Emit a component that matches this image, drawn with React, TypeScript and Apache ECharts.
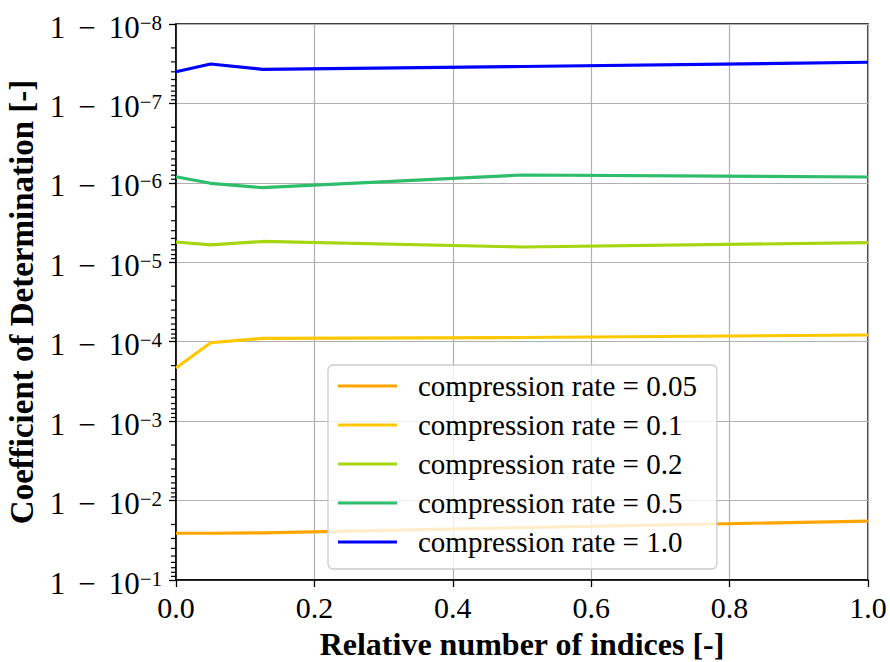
import React, { useEffect, useRef } from "react";
import * as echarts from "echarts";

// x positions (relative number of indices)
const relIndices = [0, 0.05, 0.125, 0.5, 1.0];

// legend / series names
const seriesNames = [
  "compression rate = 0.05",
  "compression rate = 0.1",
  "compression rate = 0.2",
  "compression rate = 0.5",
  "compression rate = 1.0",
];

// values of 1 - R^2 (plotted as "1 − 10^k" on the inverted log axis)
const rate005 = [2.58e-2, 2.58e-2, 2.55e-2, 2.19e-2, 1.81e-2];
const rate01 = [2.14e-4, 1.03e-4, 9.06e-5, 8.85e-5, 8.23e-5];
const rate02 = [5.55e-6, 6.05e-6, 5.47e-6, 6.42e-6, 5.66e-6];
const rate05 = [8.37e-7, 1.013e-6, 1.151e-6, 7.96e-7, 8.44e-7];
const rate10 = [3.99e-8, 3.19e-8, 3.72e-8, 3.43e-8, 3.03e-8];

const seriesValues = [rate005, rate01, rate02, rate05, rate10];
const seriesColors = ["#FFA500", "#FFC800", "#A5D610", "#2EBD6B", "#0000FF"];

// axis ticks
const xTickLabels = ["0.0", "0.2", "0.4", "0.6", "0.8", "1.0"];
const yDecadeExponents = [-8, -7, -6, -5, -4, -3, -2, -1];
const minorMultipliers = [2, 3, 4, 5, 6, 7, 8, 9];

const FONT = "'Liberation Serif', 'Times New Roman', serif";

export default function App() {
  const ref = useRef<HTMLDivElement>(null);

  useEffect(() => {
    document.body.style.margin = "0";
    if (!ref.current) return;
    const chart = echarts.init(ref.current, null, { renderer: "svg" });

    const minorTickValues: number[] = [];
    yDecadeExponents.slice(0, -1).forEach((e) => {
      minorMultipliers.forEach((m) => minorTickValues.push(m * Math.pow(10, e)));
    });

    const lineSeries = seriesNames.map((name, i) => ({
      name,
      type: "line",
      data: relIndices.map((x, j) => [x, seriesValues[i][j]]),
      symbol: "none",
      showSymbol: false,
      lineStyle: { color: seriesColors[i], width: 3.2 },
      itemStyle: { color: seriesColors[i] },
      z: 3,
    }));

    const option = {
      animation: false,
      backgroundColor: "#ffffff",
      grid: {
        left: 176,
        right: 22,
        top: 24,
        bottom: 82,
        show: true,
        borderColor: "#000000",
        borderWidth: 1.5,
        backgroundColor: "transparent",
        containLabel: false,
        outerBoundsMode: "none",
      },
      legend: {
        orient: "vertical",
        left: 328,
        top: 365,
        data: seriesNames,
        icon: "rect",
        itemWidth: 59,
        itemHeight: 3,
        itemGap: 9,
        padding: [6, 20, 12, 10],
        backgroundColor: "rgba(255,255,255,0.8)",
        borderColor: "#cccccc",
        borderWidth: 1.3,
        borderRadius: 5,
        textStyle: {
          fontFamily: FONT,
          fontSize: 29,
          lineHeight: 30,
          color: "#000000",
          padding: [0, 0, 0, 16],
        },
        selectedMode: false,
        z: 10,
      },
      xAxis: {
        type: "value",
        min: 0,
        max: 1,
        interval: 0.2,
        name: "Relative number of indices [-]",
        nameLocation: "middle",
        nameGap: 48,
        nameTextStyle: {
          fontFamily: FONT,
          fontSize: 32,
          fontWeight: "bold",
          color: "#000000",
        },
        axisLine: { show: true, lineStyle: { color: "#000000", width: 1.5 } },
        axisTick: { show: true, length: 7, lineStyle: { color: "#000000", width: 1.3 } },
        axisLabel: {
          margin: 12,
          fontFamily: FONT,
          fontSize: 30,
          color: "#000000",
          formatter: (v: number) => xTickLabels[Math.round(v / 0.2)] ?? v.toFixed(1),
        },
        splitLine: { show: true, lineStyle: { color: "#b0b0b0", width: 1.2 } },
      },
      yAxis: {
        type: "log",
        logBase: 10,
        min: 1e-8,
        max: 1e-1,
        interval: 1,
        inverse: true,
        name: "Coefficient of Determination [-]",
        nameLocation: "middle",
        nameGap: 138,
        nameTextStyle: {
          fontFamily: FONT,
          fontSize: 33,
          fontWeight: "bold",
          color: "#000000",
        },
        axisLine: { show: true, lineStyle: { color: "#000000", width: 1.5 } },
        axisTick: { show: true, length: 7, lineStyle: { color: "#000000", width: 1.3 } },
        axisLabel: {
          margin: 14,
          color: "#000000",
          padding: [6, 0, 0, 0],
          formatter: (v: number) => {
            const e = Math.round(Math.log10(v));
            return `{n|1}{m|−}{n|10}{e|−${Math.abs(e)}}`;
          },
          rich: {
            n: { fontFamily: FONT, fontSize: 31, lineHeight: 30, color: "#000000" },
            m: { fontFamily: FONT, fontSize: 31, lineHeight: 30, color: "#000000", padding: [0, 13, 0, 13] },
            e: { fontFamily: FONT, fontSize: 21, lineHeight: 12, verticalAlign: "top", color: "#000000" },
          },
        },
        splitLine: { show: true, lineStyle: { color: "#b0b0b0", width: 1.2 } },
      },
      series: lineSeries,
    };

    chart.setOption(option as any);

    // minor log ticks on the left axis, positioned through the axis scales
    const x0 = chart.convertToPixel({ xAxisIndex: 0 }, 0) as number;
    const minorTickGraphics = minorTickValues.map((v) => {
      const y = chart.convertToPixel({ yAxisIndex: 0 }, v) as number;
      return {
        type: "line",
        silent: true,
        z: 50,
        shape: { x1: x0 - 5, y1: y, x2: x0, y2: y },
        style: { stroke: "#000000", lineWidth: 1.2 },
      };
    });
    chart.setOption({ graphic: { elements: minorTickGraphics } } as any);

    return () => chart.dispose();
  }, []);

  return <div ref={ref} style={{ width: 890, height: 662 }} />;
}
